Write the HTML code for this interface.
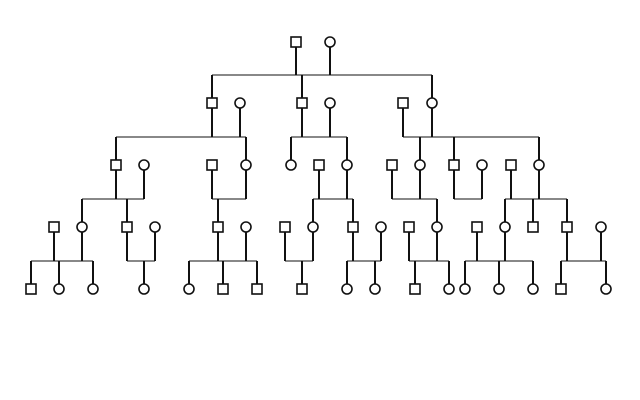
<!DOCTYPE html>
<html><head><style>html,body{margin:0;padding:0;background:#fff}svg{display:block}</style></head><body>
<svg width="640" height="400" viewBox="0 0 640 400" xmlns="http://www.w3.org/2000/svg">
<g stroke="#888" stroke-width="2" fill="none">
<path d="M212 75H432M116 137H246M291 137H347M403 137H539M82 199H144M212 199H246M313 199H353M392 199H437M454 199H482M505 199H567M31 261H93M127 261H155M189 261H257M285 261H313M347 261H381M409 261H449M465 261H533M561 261H606"/>
</g>
<g stroke="#111" stroke-width="2" fill="none">
<path d="M296 47V75M330 47V75M212 75V98M302 75V98M432 75V98
M212 108V137M240 108V137M302 108V137M330 108V137M403 108V137M432 108V137
M116 137V160M246 137V160M291 137V160M347 137V160M420 137V160M454 137V160M539 137V160
M116 170V199M144 170V199M212 170V199M246 170V199M319 170V199M347 170V199M392 170V199M420 170V199M454 170V199M482 170V199M511 170V199M539 170V199
M82 199V222M127 199V222M218 199V222M313 199V222M353 199V222M437 199V222M505 199V222M533 199V222M567 199V222
M54 232V261M82 232V261M127 232V261M155 232V261M218 232V261M246 232V261M285 232V261M313 232V261M353 232V261M381 232V261M409 232V261M437 232V261M477 232V261M505 232V261M567 232V261M601 232V261
M31 261V284M59 261V284M93 261V284M144 261V284M189 261V284M223 261V284M257 261V284M302 261V284M347 261V284M375 261V284M415 261V284M449 261V284M465 261V284M499 261V284M533 261V284M561 261V284M606 261V284"/>
</g>
<g stroke="#111" stroke-width="1.6" fill="#fff">
<rect x="291" y="37" width="10" height="10"/><circle cx="330" cy="42" r="5"/>
<rect x="207" y="98" width="10" height="10"/><circle cx="240" cy="103" r="5"/>
<rect x="297" y="98" width="10" height="10"/><circle cx="330" cy="103" r="5"/>
<rect x="398" y="98" width="10" height="10"/><circle cx="432" cy="103" r="5"/>
<rect x="111" y="160" width="10" height="10"/><circle cx="144" cy="165" r="5"/>
<rect x="207" y="160" width="10" height="10"/><circle cx="246" cy="165" r="5"/>
<circle cx="291" cy="165" r="5"/><rect x="314" y="160" width="10" height="10"/><circle cx="347" cy="165" r="5"/>
<rect x="387" y="160" width="10" height="10"/><circle cx="420" cy="165" r="5"/>
<rect x="449" y="160" width="10" height="10"/><circle cx="482" cy="165" r="5"/>
<rect x="506" y="160" width="10" height="10"/><circle cx="539" cy="165" r="5"/>
<rect x="49" y="222" width="10" height="10"/><circle cx="82" cy="227" r="5"/>
<rect x="122" y="222" width="10" height="10"/><circle cx="155" cy="227" r="5"/>
<rect x="213" y="222" width="10" height="10"/><circle cx="246" cy="227" r="5"/>
<rect x="280" y="222" width="10" height="10"/><circle cx="313" cy="227" r="5"/>
<rect x="348" y="222" width="10" height="10"/><circle cx="381" cy="227" r="5"/>
<rect x="404" y="222" width="10" height="10"/><circle cx="437" cy="227" r="5"/>
<rect x="472" y="222" width="10" height="10"/><circle cx="505" cy="227" r="5"/>
<rect x="528" y="222" width="10" height="10"/>
<rect x="562" y="222" width="10" height="10"/><circle cx="601" cy="227" r="5"/>
<rect x="26" y="284" width="10" height="10"/><circle cx="59" cy="289" r="5"/><circle cx="93" cy="289" r="5"/>
<circle cx="144" cy="289" r="5"/>
<circle cx="189" cy="289" r="5"/><rect x="218" y="284" width="10" height="10"/><rect x="252" y="284" width="10" height="10"/>
<rect x="297" y="284" width="10" height="10"/>
<circle cx="347" cy="289" r="5"/><circle cx="375" cy="289" r="5"/>
<rect x="410" y="284" width="10" height="10"/><circle cx="449" cy="289" r="5"/>
<circle cx="465" cy="289" r="5"/><circle cx="499" cy="289" r="5"/><circle cx="533" cy="289" r="5"/>
<rect x="556" y="284" width="10" height="10"/><circle cx="606" cy="289" r="5"/>
</g>
</svg>
</body></html>
